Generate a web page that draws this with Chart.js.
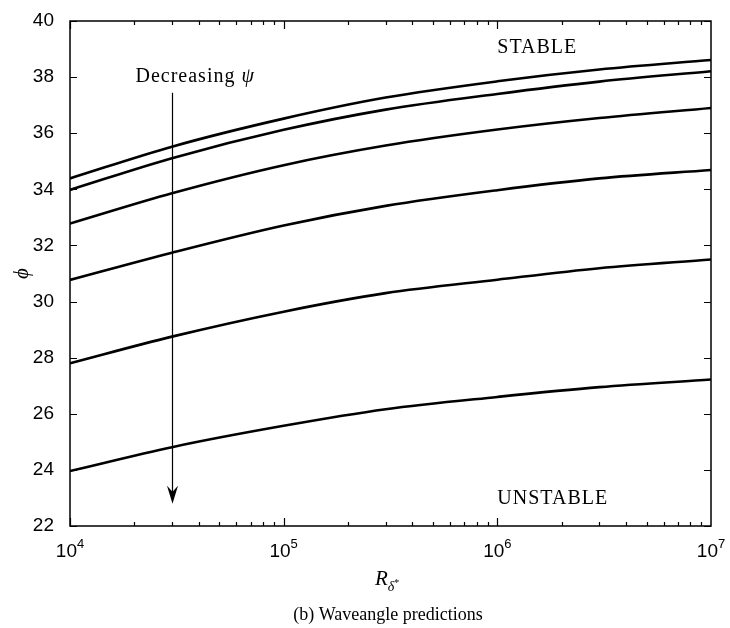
<!DOCTYPE html>
<html>
<head>
<meta charset="utf-8">
<script src="https://cdn.jsdelivr.net/npm/chart.js@4"></script>
<style>
  html, body { margin: 0; padding: 0; background: #fff; }
  #wrap { width: 730px; height: 628px; }
</style>
</head>
<body>
<div id="wrap"><canvas id="chart" width="730" height="628"></canvas></div>
<script>
// R_delta* sample points (log axis)
const reValues = [1e4, 3e4, 1e5, 3e5, 1e6, 3e6, 1e7];
// wave angle phi for each curve, top to bottom (decreasing psi)
const phi1 = [34.39, 35.52, 36.52, 37.27, 37.85, 38.27, 38.61];
const phi2 = [33.98, 35.11, 36.12, 36.84, 37.40, 37.84, 38.21];
const phi3 = [32.78, 33.86, 34.86, 35.56, 36.13, 36.54, 36.90];
const phi4 = [30.77, 31.74, 32.71, 33.41, 33.97, 34.39, 34.69];
const phi5 = [27.80, 28.75, 29.64, 30.30, 30.78, 31.19, 31.50];
const phi6 = [23.96, 24.81, 25.57, 26.16, 26.60, 26.95, 27.22];
const curves = [phi1, phi2, phi3, phi4, phi5, phi6];

const yTicks = [22, 24, 26, 28, 30, 32, 34, 36, 38, 40];
const xPowers = [4, 5, 6, 7];

const sans = '"Liberation Sans", Arial, sans-serif';
const serif = '"Liberation Serif", "Times New Roman", serif';

const decorations = {
    id: 'decorations',
    afterDraw(chart) {
        const ctx = chart.ctx;
        const area = chart.chartArea;
        const xs = chart.scales.x;
        const ys = chart.scales.y;
        ctx.save();
        ctx.strokeStyle = '#000';
        ctx.fillStyle = '#000';

        // frame
        ctx.lineWidth = 1.5;
        ctx.strokeRect(area.left, area.top, area.right - area.left, area.bottom - area.top);

        // y ticks, inward on both sides
        ctx.lineWidth = 1.2;
        yTicks.forEach(v => {
            let py = Math.round(ys.getPixelForValue(v)) + 0.5;
            ctx.beginPath();
            ctx.moveTo(area.left, py); ctx.lineTo(area.left + 7, py);
            ctx.moveTo(area.right, py); ctx.lineTo(area.right - 7, py);
            ctx.stroke();
        });

        // x ticks, major and minor
        for (let p = 4; p < 7; p++) {
            for (let m = 1; m < 10; m++) {
                let px = Math.round(xs.getPixelForValue(m * Math.pow(10, p))) + 0.5;
                let len = m == 1 ? 8 : 4;
                ctx.beginPath();
                ctx.moveTo(px, area.bottom); ctx.lineTo(px, area.bottom - len);
                ctx.moveTo(px, area.top); ctx.lineTo(px, area.top + len);
                ctx.stroke();
            }
        }

        // x tick labels 10^n
        xPowers.forEach(p => {
            let px = xs.getPixelForValue(Math.pow(10, p));
            ctx.font = '19px ' + sans;
            let w1 = ctx.measureText('10').width;
            ctx.font = '13px ' + sans;
            let w2 = ctx.measureText(String(p)).width;
            let x0 = px - (w1 + w2) / 2;
            ctx.textAlign = 'left';
            ctx.textBaseline = 'alphabetic';
            ctx.font = '19px ' + sans;
            ctx.fillText('10', x0, area.bottom + 31);
            ctx.font = '13px ' + sans;
            ctx.fillText(String(p), x0 + w1, area.bottom + 22);
        });

        // x axis title R_{delta*}
        ctx.textAlign = 'left';
        ctx.font = 'italic 21px ' + serif;
        ctx.fillText('R', 375, 585);
        let rw = ctx.measureText('R').width;
        ctx.font = 'italic 14px ' + serif;
        ctx.fillText('δ', 375 + rw, 591);
        let dw = ctx.measureText('δ').width;
        ctx.font = '10px ' + serif;
        ctx.fillText('*', 375 + rw + dw, 586);

        // caption
        ctx.textAlign = 'center';
        ctx.font = '18px ' + serif;
        ctx.fillText('(b) Waveangle predictions', 388, 620);

        // y axis title phi
        ctx.save();
        ctx.translate(22, ys.getPixelForValue(31));
        ctx.rotate(-Math.PI / 2);
        ctx.font = 'italic 21px ' + serif;
        ctx.textAlign = 'center';
        ctx.textBaseline = 'middle';
        ctx.fillText('ϕ', 0, 0);
        ctx.restore();

        // arrow for decreasing psi
        let ax = Math.round(xs.getPixelForValue(3e4)) + 0.5;
        let aTop = ys.getPixelForValue(37.44);
        let aTip = ys.getPixelForValue(22.79);
        ctx.lineWidth = 1.2;
        ctx.beginPath();
        ctx.moveTo(ax, aTop); ctx.lineTo(ax, aTip - 8);
        ctx.stroke();
        ctx.beginPath();
        ctx.moveTo(ax, aTip);
        ctx.lineTo(ax - 5.5, aTip - 18);
        ctx.lineTo(ax, aTip - 12);
        ctx.lineTo(ax + 5.5, aTip - 18);
        ctx.closePath();
        ctx.fill();

        // annotations
        ctx.textAlign = 'left';
        ctx.textBaseline = 'alphabetic';
        ctx.letterSpacing = '1px';
        ctx.font = '20px ' + serif;
        let tx = ax - 37;
        let ty = ys.getPixelForValue(37.83);
        ctx.fillText('Decreasing ', tx, ty);
        let decW = ctx.measureText('Decreasing ').width;
        ctx.font = 'italic 20px ' + serif;
        ctx.fillText('ψ', tx + decW, ty);

        ctx.font = '20px ' + serif;
        let sx = xs.getPixelForValue(1e6);
        ctx.fillText('STABLE', sx, ys.getPixelForValue(38.86));
        ctx.fillText('UNSTABLE', sx, ys.getPixelForValue(22.79));
        ctx.restore();
    }
};

new Chart(document.getElementById('chart'), {
    type: 'line',
    data: {
        datasets: curves.map((c, i) => ({
            label: 'curve ' + (i + 1),
            data: reValues.map((x, j) => ({ x: x, y: c[j] })),
            borderColor: '#000',
            borderWidth: 2.6,
            pointRadius: 0,
            fill: false,
            cubicInterpolationMode: 'monotone'
        }))
    },
    options: {
        responsive: false,
        animation: false,
        layout: { padding: { top: 21, right: 19, left: 0, bottom: 0 } },
        plugins: {
            legend: { display: false },
            tooltip: { enabled: false }
        },
        scales: {
            x: {
                type: 'logarithmic',
                min: 1e4,
                max: 1e7,
                grid: { display: false },
                border: { display: false },
                ticks: { display: false },
                afterFit: s => { s.height = 102; }
            },
            y: {
                min: 22,
                max: 40,
                grid: { display: false },
                border: { display: false },
                ticks: {
                    stepSize: 2,
                    padding: 8,
                    color: '#000',
                    font: { family: sans, size: 19 }
                },
                afterFit: s => { s.width = 70; }
            }
        }
    },
    plugins: [decorations]
});
</script>
</body>
</html>
